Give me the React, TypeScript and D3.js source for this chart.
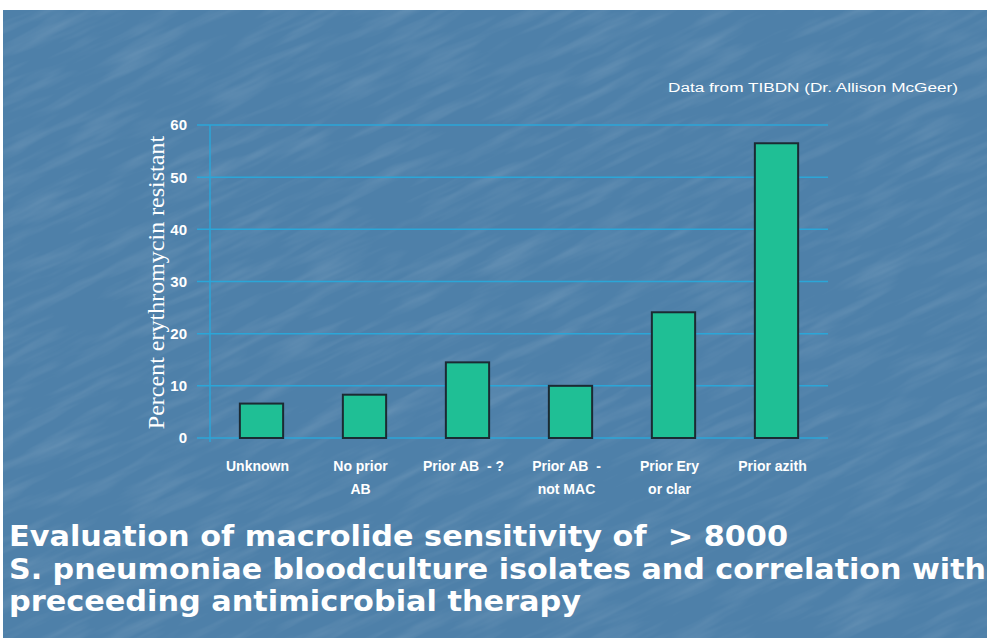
import React from "react";
import * as d3 from "d3";

const categories: string[][] = [
  ["Unknown"],
  ["No prior", "AB"],
  ["Prior AB  - ?"],
  ["Prior AB  -", "not MAC"],
  ["Prior Ery", "or clar"],
  ["Prior azith"],
];
const values: number[] = [6.6, 8.3, 14.5, 10, 24.1, 56.5];
const yTicks: number[] = [0, 10, 20, 30, 40, 50, 60];
const yTitle = "Percent erythromycin resistant";
const note = "Data from TIBDN (Dr. Allison McGeer)";
const titleLines: string[] = [
  "Evaluation of macrolide sensitivity of  > 8000",
  "S. pneumoniae bloodculture isolates and correlation with",
  "preceeding antimicrobial therapy",
];
const titleWidths: number[] = [779, 977, 572];

export default function App() {
  const W = 987, H = 638;
  const x0 = 210, x1 = 828, yTop = 125, yBot = 438;
  const x = d3.scaleBand<number>().domain(d3.range(values.length)).range([x0, x1]).paddingInner(0.58).paddingOuter(0.29);
  const y = d3.scaleLinear().domain([0, 60]).range([yBot, yTop]);
  const grid = "#2ba6d8";
  return (
    <svg width={W} height={H} style={{ position: "absolute", left: 0, top: 0 }}>
      <defs>
        <filter id="tex" x="0" y="0" width="100%" height="100%">
          <feTurbulence type="fractalNoise" baseFrequency="0.012 0.09" numOctaves="3" seed="4" result="n" />
          <feColorMatrix in="n" type="matrix" values="0 0 0 0 1  0 0 0 0 1  0 0 0 0 1  0 0 0 -1.6 0.9" />
        </filter>
        <clipPath id="bg">
          <rect x={3} y={10} width={W - 3} height={H - 10} />
        </clipPath>
      </defs>
      <rect x={0} y={0} width={W} height={H} fill="#ffffff" />
      <rect x={3} y={10} width={W - 3} height={H - 10} fill="#4e80a9" />
      <g opacity={0.14} clipPath="url(#bg)">
        <rect x={-400} y={-400} width={1800} height={1450} filter="url(#tex)" transform="rotate(-25 490 320)" />
      </g>
      {yTicks.map((t) => (
        <g key={t}>
          <line x1={197} x2={x1} y1={y(t)} y2={y(t)} stroke={grid} strokeWidth={1.5} />
          <text x={187} y={y(t)} dy="0.36em" textAnchor="end" fill="#fff" fontFamily="Liberation Sans, Arial, sans-serif" fontWeight="bold" fontSize={15}>{t}</text>
        </g>
      ))}
      <line x1={x0} x2={x0} y1={yTop} y2={yBot + 4} stroke={grid} strokeWidth={1.5} />
      {values.map((v, i) => (
        <rect key={i} x={x(i)!} y={y(v)} width={x.bandwidth()} height={yBot - y(v)} fill="#1fbf95" stroke="#1b2a33" strokeWidth={2} />
      ))}
      {categories.map((lines, i) => (
        <text key={i} textAnchor="middle" fill="#fff" fontFamily="Liberation Sans, Arial, sans-serif" fontWeight="bold" fontSize={14} style={{ whiteSpace: "pre" }}>
          {lines.map((l, j) => (
            <tspan key={j} x={x(i)! + x.bandwidth() / 2 - 4} y={471 + j * 23}>{l}</tspan>
          ))}
        </text>
      ))}
      <text transform={`translate(164,${(yTop + yBot) / 2 + 1}) rotate(-90)`} textAnchor="middle" fill="#fff" fontFamily="Liberation Serif, Times New Roman, serif" fontSize={24}>{yTitle}</text>
      <text x={958} y={92} textAnchor="end" fill="#fff" fontFamily="Liberation Sans, Arial, sans-serif" fontSize={12.5} textLength={290} lengthAdjust="spacingAndGlyphs">{note}</text>
      {titleLines.map((l, i) => (
        <text key={i} x={9} y={546 + i * 32.5} fill="#fff" fontFamily="DejaVu Sans, Verdana, sans-serif" fontWeight="bold" fontSize={29} textLength={titleWidths[i]} lengthAdjust="spacingAndGlyphs" style={{ whiteSpace: "pre" }}>{l}</text>
      ))}
    </svg>
  );
}
